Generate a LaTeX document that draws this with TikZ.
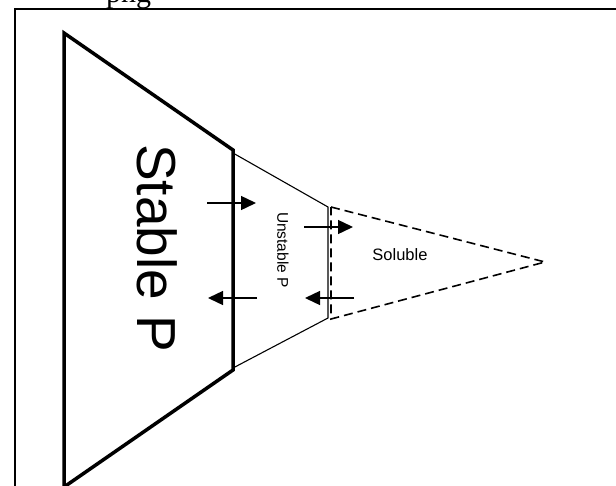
\documentclass[tikz,border=0pt]{standalone}
\usepackage{fontspec}
\setmainfont{Liberation Sans}
\newfontfamily\capfont{Liberation Serif}
\usetikzlibrary{arrows.meta,positioning}
\tikzset{
  frame/.style={line width=1.5pt},
  stab/.style={line width=3.5pt,miter limit=20},
  unst/.style={line width=1.1pt},
  sol/.style={line width=1.6pt,dash pattern=on 9pt off 5pt},
  flux/.style={-{Triangle[length=15pt,width=14pt]},line width=1.4pt},
  lbl/.style={inner sep=0pt,font=\fontsize{#1}{#1}\selectfont},
}
\begin{document}
\begin{tikzpicture}[x=1pt,y=-1pt]
 \useasboundingbox (0,0) rectangle (616,485);
 \node[inner sep=0pt,anchor=base west,font=\capfont\fontsize{30}{30}\selectfont] (cut) at (106,2) {png};
 \draw[frame] (15,520) |- (640,9);
 % pools
 \draw[stab] (64,487) -- (64,33) -- (233,150) -- (233,370) -- cycle;
 \draw[unst] (233,153) -- (328,207) -- (328,318) -- (233,368);
 \draw[sol] (331,207) -- (545,262) -- (331,319) -- cycle;
 \node[lbl=55,rotate=-90] (stable) at (157,248) {Stable P};
 \node[lbl=15.5,rotate=-90] (unstable) at (283,250) {Unstable P};
 \node[lbl=16.5] (soluble) at (400,255) {Soluble};
 % exchange arrows
 \coordinate (a1) at (207,203); \coordinate (b1) at (256,203);
 \coordinate (a2) at (257,298); \coordinate (b2) at (208,298);
 \coordinate (a3) at (304,227); \coordinate (b3) at (353,227);
 \coordinate (a4) at (354,298); \coordinate (b4) at (305,298);
 \foreach \i in {1,...,4}{\draw[flux] (a\i) -- (b\i);}
\end{tikzpicture}
\end{document}
